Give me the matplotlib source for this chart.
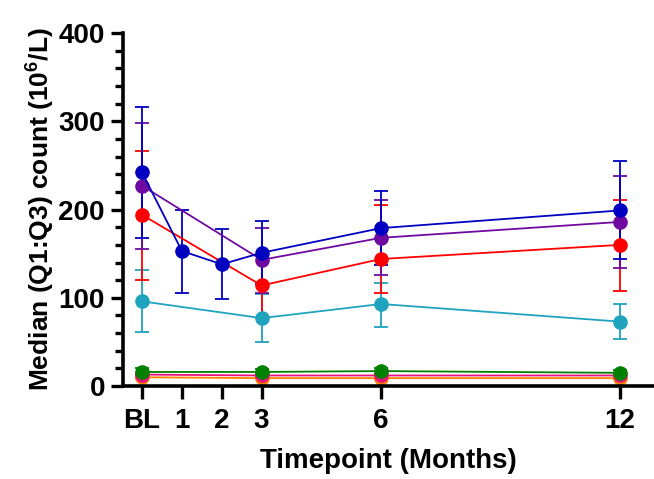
import matplotlib
matplotlib.use("Agg")
import matplotlib.pyplot as plt
import numpy as np

plt.rcParams["font.family"] = ["Liberation Sans", "DejaVu Sans"]
plt.rcParams["font.weight"] = "bold"
plt.rcParams["mathtext.fontset"] = "custom"
plt.rcParams["mathtext.rm"] = "Liberation Sans:bold"
plt.rcParams["mathtext.bf"] = "Liberation Sans:bold"

tick_pos = [0, 1, 2, 3, 6, 12]
tick_labels = ["BL", "1", "2", "3", "6", "12"]

months_short = [0, 3, 6, 12]
months_long = [0, 1, 2, 3, 6, 12]

# median, Q1, Q3 per series (order = draw order)
orange_med = [10, 9, 9, 9]
orange_q1 = [8, 8, 8, 8]
orange_q3 = [12, 11, 11, 11]

pink_med = [13, 12, 12, 12]
pink_q1 = [11, 10, 10, 10]
pink_q3 = [15, 14, 14, 14]

green_med = [16, 16, 17, 15]
green_q1 = [12, 13, 14, 12]
green_q3 = [20, 19, 20, 18]

teal_med = [96, 77, 93, 73]
teal_q1 = [61, 50, 67, 53]
teal_q3 = [131, 104, 117, 93]

red_med = [194, 114, 144, 160]
red_q1 = [120, 77, 105, 108]
red_q3 = [266, 148, 205, 211]

purple_med = [227, 143, 168, 186]
purple_q1 = [155, 105, 126, 134]
purple_q3 = [298, 179, 211, 238]

blue_med = [242, 153, 138, 151, 179, 199]
blue_q1 = [168, 106, 99, 116, 137, 144]
blue_q3 = [316, 200, 178, 187, 221, 255]

series = [
    (months_short, orange_med, orange_q1, orange_q3, "#FF8000"),
    (months_short, pink_med, pink_q1, pink_q3, "#E8117F"),
    (months_short, green_med, green_q1, green_q3, "#008000"),
    (months_short, teal_med, teal_q1, teal_q3, "#1FA3BE"),
    (months_short, red_med, red_q1, red_q3, "#FF0000"),
    (months_short, purple_med, purple_q1, purple_q3, "#6E0AA0"),
    (months_long, blue_med, blue_q1, blue_q3, "#0000C0"),
]

fig = plt.figure(figsize=(6.54, 4.79), dpi=100)
ax = fig.add_axes([0.188, 0.194, 0.812, 0.737])

for x, med, q1, q3, col in series:
    med = np.array(med)
    err = [med - np.array(q1), np.array(q3) - med]
    ax.errorbar(x, med, yerr=err, color=col, marker="o", markersize=9.5,
                linewidth=1.3, elinewidth=1.3, capsize=5, capthick=1.3,
                clip_on=False)

ax.set_xlim(-0.48, 12.85)
ax.set_ylim(0, 400)
ax.set_xticks(tick_pos)
ax.set_xticklabels(tick_labels)
ax.set_yticks([0, 100, 200, 300, 400])
ax.set_yticks(np.arange(0, 401, 20), minor=True)

for s in ["top", "right"]:
    ax.spines[s].set_visible(False)
for s in ["left", "bottom"]:
    ax.spines[s].set_linewidth(2.6)

ax.tick_params(axis="both", which="major", length=9, width=2.4, labelsize=20, pad=4)
ax.tick_params(axis="x", which="major", pad=7)
ax.tick_params(axis="y", which="minor", length=6, width=2.4)
ax.tick_params(axis="x", which="minor", bottom=False)

ax.set_xlabel("Timepoint (Months)", fontsize=20, fontweight="bold", labelpad=10)
ax.set_ylabel(r"Median (Q1:Q3) count (10$^{6}$/L)", fontsize=19,
              fontweight="bold", labelpad=2)

fig.savefig("out.png", dpi=100)
